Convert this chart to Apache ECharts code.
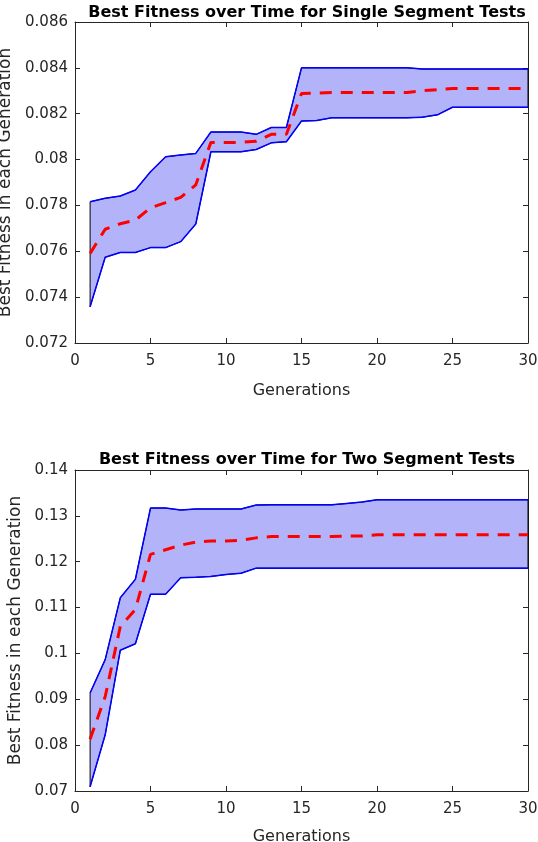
<!DOCTYPE html>
<html>
<head>
<meta charset="utf-8">
<script src="https://cdn.jsdelivr.net/npm/echarts@6/dist/echarts.min.js"></script>
<style>
  html, body { margin: 0; padding: 0; background: #fff; }
  #chart { width: 538px; height: 842px; }
</style>
</head>
<body>
<div id="chart"></div>
<script>
// generations 1..30
const generations = [1,2,3,4,5,6,7,8,9,10,11,12,13,14,15,16,17,18,19,20,21,22,23,24,25,26,27,28,29,30];

// single segment tests
const singleUpper = [0.07816,0.07831,0.07841,0.07867,0.07947,0.08012,0.08020,0.08027,0.08120,0.08120,
  0.08120,0.08110,0.08140,0.08140,0.08400,0.08400,0.08400,0.08400,0.08400,0.08400,
  0.08400,0.08400,0.08395,0.08395,0.08395,0.08395,0.08395,0.08395,0.08395,0.08395];
const singleLower = [0.07358,0.07574,0.07595,0.07595,0.07616,0.07616,0.07642,0.07719,0.08034,0.08034,
  0.08034,0.08044,0.08073,0.08078,0.08168,0.08170,0.08182,0.08182,0.08182,0.08182,
  0.08182,0.08182,0.08185,0.08195,0.08228,0.08228,0.08228,0.08228,0.08228,0.08228];
const singleMean = [0.07591,0.07696,0.07720,0.07736,0.07790,0.07812,0.07835,0.07890,0.08075,0.08075,
  0.08075,0.08080,0.08110,0.08110,0.08288,0.08290,0.08293,0.08293,0.08293,0.08293,
  0.08293,0.08293,0.08300,0.08305,0.08310,0.08310,0.08310,0.08310,0.08310,0.08310];

// two segment tests
const twoUpper = [0.09138,0.09866,0.11213,0.11617,0.1317,0.1317,0.13127,0.1315,0.1315,0.1315,
  0.1315,0.13236,0.1324,0.1324,0.1324,0.1324,0.1324,0.1327,0.1330,0.1335,
  0.1335,0.1335,0.1335,0.1335,0.1335,0.1335,0.1335,0.1335,0.1335,0.1335];
const twoLower = [0.07094,0.08225,0.1007,0.1021,0.1129,0.1129,0.1165,0.1166,0.1168,0.1172,
  0.1175,0.1186,0.1186,0.1186,0.1186,0.1186,0.1186,0.1186,0.1186,0.1186,
  0.1186,0.1186,0.1186,0.1186,0.1186,0.1186,0.1186,0.1186,0.1186,0.1186];
const twoMean = [0.0813,0.0906,0.1059,0.1096,0.1216,0.1226,0.1236,0.1243,0.1245,0.1245,
  0.1247,0.1252,0.1255,0.1255,0.1255,0.1255,0.1255,0.1256,0.1256,0.1259,
  0.1259,0.1259,0.1259,0.1259,0.1259,0.1259,0.1259,0.1259,0.1259,0.1259];

const titles = ['Best Fitness over Time for Single Segment Tests', 'Best Fitness over Time for Two Segment Tests'];
const xName = 'Generations';
const yName = 'Best Fitness in each Generation';

const AX = '#262626';
const FONT = 'DejaVu Sans';

function pairs(ys) { return generations.map((g, i) => [g, ys[i]]); }

// band polygon: upper forwards, lower backwards
function bandSeries(idx, upper, lower) {
  const pts = generations.map((g, i) => [g, upper[i]])
    .concat(generations.slice().reverse().map((g, j) => [g, lower[generations.length - 1 - j]]));
  return {
    type: 'custom', xAxisIndex: idx * 2, yAxisIndex: idx * 2, silent: true, z: 1,
    data: [0],
    renderItem: function (params, api) {
      return {
        type: 'polygon',
        shape: { points: pts.map(p => api.coord(p)) },
        style: { fill: '#b3b3fa', stroke: '#000', lineWidth: 1 }
      };
    }
  };
}

function lineSeries(idx, ys, color, width, dashed) {
  return {
    type: 'line', xAxisIndex: idx * 2, yAxisIndex: idx * 2, data: pairs(ys),
    symbol: 'none', silent: true, z: dashed ? 4 : 3,
    lineStyle: { color: color, width: width, type: dashed ? [12, 9] : 'solid' }
  };
}

const grids = [
  { left: 75, right: 10, top: 22, height: 321, outerBoundsMode: 'none', containLabel: false },
  { left: 75, right: 10, top: 470, height: 321, outerBoundsMode: 'none', containLabel: false }
];
const yRanges = [[0.072, 0.086, 0.002], [0.07, 0.14, 0.01]];
const yGaps = [55, 47];
const xGaps = [40, 38];

const xAxes = [], yAxes = [];
grids.forEach((g, i) => {
  xAxes.push({
    type: 'value', gridIndex: i, min: 0, max: 30, interval: 5,
    name: xName, nameLocation: 'middle', nameGap: xGaps[i],
    nameTextStyle: { color: AX, fontSize: 16, fontFamily: FONT },
    axisLine: { show: true, onZero: false, lineStyle: { color: AX, width: 1 } },
    axisTick: { show: true, inside: true, length: 5, lineStyle: { color: AX } },
    axisLabel: { color: AX, fontSize: 15, fontFamily: FONT, margin: 11 },
    splitLine: { show: false }
  });
  xAxes.push({
    type: 'value', gridIndex: i, min: 0, max: 30, interval: 5, position: 'top',
    axisLine: { show: true, onZero: false, lineStyle: { color: AX, width: 1 } },
    axisTick: { show: true, inside: true, length: 5, lineStyle: { color: AX } },
    axisLabel: { show: false }, splitLine: { show: false }
  });
  const r = yRanges[i];
  yAxes.push({
    type: 'value', gridIndex: i, min: r[0], max: r[1], interval: r[2],
    name: yName, nameLocation: 'middle', nameGap: yGaps[i],
    nameTextStyle: { color: AX, fontSize: 17, fontFamily: FONT },
    axisLine: { show: true, onZero: false, lineStyle: { color: AX, width: 1 } },
    axisTick: { show: true, inside: true, length: 5, lineStyle: { color: AX } },
    axisLabel: { color: AX, fontSize: 15, fontFamily: FONT, margin: 7 },
    splitLine: { show: false }
  });
  yAxes.push({
    type: 'value', gridIndex: i, min: r[0], max: r[1], interval: r[2], position: 'right',
    axisLine: { show: true, onZero: false, lineStyle: { color: AX, width: 1 } },
    axisTick: { show: true, inside: true, length: 5, lineStyle: { color: AX } },
    axisLabel: { show: false }, splitLine: { show: false }
  });
});

const chart = echarts.init(document.getElementById('chart'), null, { renderer: 'canvas' });
chart.setOption({
  animation: false,
  backgroundColor: '#fff',
  title: [
    { text: titles[0], left: 302, top: 0, textAlign: 'center',
      textStyle: { color: '#000', fontSize: 16, fontWeight: 'bold', fontFamily: FONT } },
    { text: titles[1], left: 302, top: 447, textAlign: 'center',
      textStyle: { color: '#000', fontSize: 16, fontWeight: 'bold', fontFamily: FONT } }
  ],
  grid: grids,
  xAxis: xAxes,
  yAxis: yAxes,
  series: [
    bandSeries(0, singleUpper, singleLower),
    lineSeries(0, singleUpper, '#0000ff', 1.5, false),
    lineSeries(0, singleLower, '#0000ff', 1.5, false),
    lineSeries(0, singleMean, '#ff0000', 3, true),
    bandSeries(1, twoUpper, twoLower),
    lineSeries(1, twoUpper, '#0000ff', 1.5, false),
    lineSeries(1, twoLower, '#0000ff', 1.5, false),
    lineSeries(1, twoMean, '#ff0000', 3, true)
  ]
});
</script>
</body>
</html>
